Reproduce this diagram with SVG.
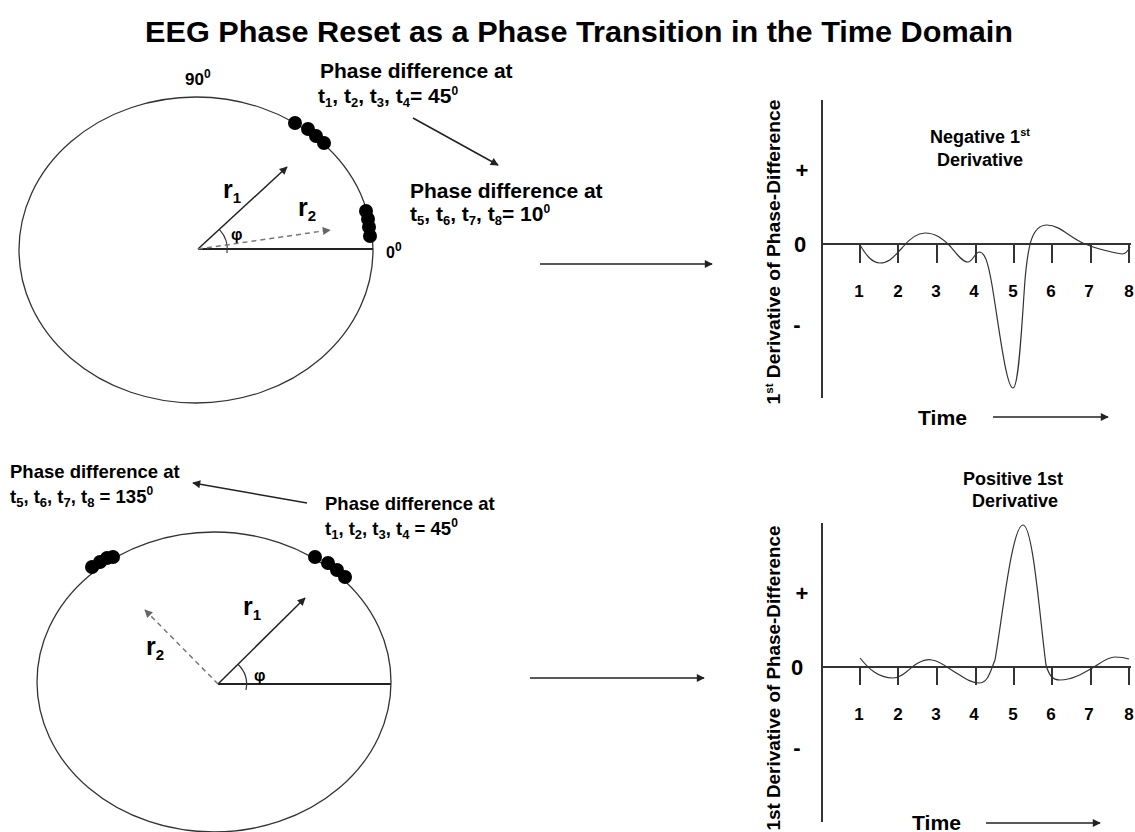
<svg xmlns="http://www.w3.org/2000/svg" width="1135" height="832" viewBox="0 0 1135 832">
<defs>
<style>
text{font-family:"Liberation Sans",Arial,sans-serif;font-weight:bold;fill:#000}
.t21{font-size:21px}
.t18{font-size:18.5px}
.sb{font-size:13px}
.sp{font-size:12px}
.ell{fill:none;stroke:#333;stroke-width:1.3}
.vec{stroke:#222;stroke-width:1.5;fill:none}
.dvec{stroke:#777;stroke-width:1.5;fill:none;stroke-dasharray:5 4}
.ax{stroke:#333;stroke-width:2;fill:none}
.tick{stroke:#333;stroke-width:2}
.crv{stroke:#333;stroke-width:1.2;fill:none}
.dot{fill:#000}
.num{font-size:17px;text-anchor:middle}
.cap{font-size:18px;text-anchor:middle}
.pm{font-size:22px;text-anchor:middle}
</style>
<marker id="ah" viewBox="0 0 10 10" refX="9" refY="5" markerWidth="9" markerHeight="8" markerUnits="userSpaceOnUse" orient="auto"><path d="M0,0L10,5L0,10z" fill="#222"/></marker>
<marker id="ahg" viewBox="0 0 10 10" refX="9" refY="5" markerWidth="9" markerHeight="8" markerUnits="userSpaceOnUse" orient="auto"><path d="M0,0L10,5L0,10z" fill="#666"/></marker>
</defs>
<rect width="1135" height="832" fill="#fff"/>

<g id="title"><text x="145" y="42" font-size="30" textLength="868" lengthAdjust="spacingAndGlyphs">EEG Phase Reset as a Phase Transition in the Time Domain</text></g>

<g id="top-circle">
<ellipse class="ell" cx="196" cy="250" rx="177" ry="153"/>
<line x1="198" y1="249" x2="373" y2="249" stroke="#222" stroke-width="2"/>
<path class="crv" d="M227,253 A29,29 0 0 0 219.5,229.6"/>
<text x="231" y="240" font-size="16">φ</text>
<text x="185" y="85" font-size="17">90<tspan class="sp" dy="-7">0</tspan></text>
<text x="386" y="258" font-size="16">0<tspan class="sp" dy="-7">0</tspan></text>
<text x="223" y="198" font-size="25">r<tspan font-size="15" dy="5">1</tspan></text>
<text x="298" y="216" font-size="25">r<tspan font-size="15" dy="5">2</tspan></text>
<circle class="dot" cx="295" cy="123" r="7"/>
<circle class="dot" cx="308" cy="129" r="7"/>
<circle class="dot" cx="316" cy="136" r="7"/>
<circle class="dot" cx="324" cy="143" r="7"/>
<circle class="dot" cx="366" cy="211" r="7"/>
<circle class="dot" cx="368" cy="219" r="7"/>
<circle class="dot" cx="369" cy="227" r="7"/>
<circle class="dot" cx="370" cy="236" r="7"/>
</g>

<g id="top-labels">
<text class="t21" x="320" y="78">Phase difference at</text>
<text class="t21" x="318" y="103">t<tspan class="sb" dy="4">1</tspan><tspan dy="-4">, t</tspan><tspan class="sb" dy="4">2</tspan><tspan dy="-4">, t</tspan><tspan class="sb" dy="4">3</tspan><tspan dy="-4">, t</tspan><tspan class="sb" dy="4">4</tspan><tspan dy="-4">= 45</tspan><tspan class="sp" dy="-8">0</tspan></text>
<text class="t21" x="410" y="198">Phase difference at</text>
<text class="t21" x="410" y="221">t<tspan class="sb" dy="4">5</tspan><tspan dy="-4">, t</tspan><tspan class="sb" dy="4">6</tspan><tspan dy="-4">, t</tspan><tspan class="sb" dy="4">7</tspan><tspan dy="-4">, t</tspan><tspan class="sb" dy="4">8</tspan><tspan dy="-4">= 10</tspan><tspan class="sp" dy="-8">0</tspan></text>
</g>

<g id="top-graph">
<line class="ax" x1="822" y1="100" x2="822" y2="398"/>
<line class="ax" x1="822" y1="244" x2="1131" y2="244"/>
<g class="tick">
<line x1="860" y1="244" x2="860" y2="263"/><line x1="898" y1="244" x2="898" y2="263"/><line x1="937" y1="244" x2="937" y2="263"/><line x1="976" y1="244" x2="976" y2="263"/><line x1="1014" y1="244" x2="1014" y2="263"/><line x1="1052" y1="244" x2="1052" y2="263"/><line x1="1091" y1="244" x2="1091" y2="263"/><line x1="1129" y1="244" x2="1129" y2="263"/>
</g>
<text class="num" x="859" y="297">1</text><text class="num" x="898" y="297">2</text><text class="num" x="936" y="297">3</text><text class="num" x="974" y="297">4</text><text class="num" x="1013" y="297">5</text><text class="num" x="1051" y="297">6</text><text class="num" x="1089" y="297">7</text><text class="num" x="1129" y="297">8</text>
<text class="pm" x="802" y="178">+</text>
<text x="800" y="252" font-size="22" text-anchor="middle">0</text>
<text class="pm" x="797" y="332">-</text>
<text transform="translate(780,252) rotate(-90)" font-size="18.5" text-anchor="middle" textLength="305" lengthAdjust="spacingAndGlyphs">1<tspan font-size="11" dy="-7">st</tspan><tspan dy="7"> Derivative of Phase-Difference</tspan></text>
<text class="cap" x="980" y="143">Negative 1<tspan font-size="11" dy="-7">st</tspan></text>
<text class="cap" x="980" y="166">Derivative</text>
<text x="918" y="425" font-size="20" textLength="49" lengthAdjust="spacingAndGlyphs">Time</text>
<path class="crv" d="M860,245 C866,255 872,263 880,263 C890,263 895,255 902,248 C910,238 917,233 925,233 C935,233 942,238 950,246 C956,253 962,262 968,262 C972,262 975,253 979,252 C985,252 988,262 992,285 C998,320 1006,388 1013,388 C1019,388 1022,320 1025,280 C1028,245 1032,225 1047,225 C1060,225 1070,238 1085,244 C1100,250 1110,252 1122,254 C1126,254 1128,251 1130,247"/>
</g>

<g id="bottom-circle">
<ellipse class="ell" cx="214" cy="682" rx="177" ry="150"/>
<line x1="218" y1="684" x2="391" y2="684" stroke="#222" stroke-width="2"/>
<path class="crv" d="M246,690 A28,28 0 0 0 237.9,664.3"/>
<text x="254" y="681" font-size="16">φ</text>
<text x="243" y="615" font-size="25">r<tspan font-size="15" dy="5">1</tspan></text>
<text x="146" y="655" font-size="25">r<tspan font-size="15" dy="5">2</tspan></text>
<circle class="dot" cx="92" cy="567" r="7"/>
<circle class="dot" cx="100" cy="562" r="7"/>
<circle class="dot" cx="107" cy="558" r="7"/>
<circle class="dot" cx="113" cy="557" r="7"/>
<circle class="dot" cx="315" cy="557" r="7"/>
<circle class="dot" cx="328" cy="563" r="7"/>
<circle class="dot" cx="337" cy="570" r="7"/>
<circle class="dot" cx="345" cy="577" r="7"/>
</g>

<g id="bottom-labels">
<text class="t18" x="10" y="478">Phase difference at</text>
<text class="t18" x="10" y="503">t<tspan class="sb" dy="4">5</tspan><tspan dy="-4">, t</tspan><tspan class="sb" dy="4">6</tspan><tspan dy="-4">, t</tspan><tspan class="sb" dy="4">7</tspan><tspan dy="-4">, t</tspan><tspan class="sb" dy="4">8</tspan><tspan dy="-4"> = 135</tspan><tspan class="sp" dy="-8">0</tspan></text>
<text class="t18" x="325" y="510">Phase difference at</text>
<text class="t18" x="325" y="535">t<tspan class="sb" dy="4">1</tspan><tspan dy="-4">, t</tspan><tspan class="sb" dy="4">2</tspan><tspan dy="-4">, t</tspan><tspan class="sb" dy="4">3</tspan><tspan dy="-4">, t</tspan><tspan class="sb" dy="4">4</tspan><tspan dy="-4"> = 45</tspan><tspan class="sp" dy="-8">0</tspan></text>
</g>

<g id="bottom-graph">
<line class="ax" x1="822" y1="523" x2="822" y2="822"/>
<line class="ax" x1="822" y1="667" x2="1131" y2="667"/>
<g class="tick">
<line x1="860" y1="667" x2="860" y2="685"/><line x1="898" y1="667" x2="898" y2="685"/><line x1="937" y1="667" x2="937" y2="685"/><line x1="976" y1="667" x2="976" y2="685"/><line x1="1014" y1="667" x2="1014" y2="685"/><line x1="1052" y1="667" x2="1052" y2="685"/><line x1="1091" y1="667" x2="1091" y2="685"/><line x1="1129" y1="667" x2="1129" y2="685"/>
</g>
<text class="num" x="859" y="720">1</text><text class="num" x="898" y="720">2</text><text class="num" x="936" y="720">3</text><text class="num" x="974" y="720">4</text><text class="num" x="1013" y="720">5</text><text class="num" x="1051" y="720">6</text><text class="num" x="1089" y="720">7</text><text class="num" x="1129" y="720">8</text>
<text class="pm" x="802" y="601">+</text>
<text x="797" y="675" font-size="22" text-anchor="middle">0</text>
<text class="pm" x="797" y="755">-</text>
<text transform="translate(780,678) rotate(-90)" font-size="18.5" text-anchor="middle" textLength="305" lengthAdjust="spacingAndGlyphs">1st Derivative of Phase-Difference</text>
<text class="cap" x="1013" y="485">Positive 1st</text>
<text class="cap" x="1015" y="507">Derivative</text>
<text x="912" y="830" font-size="20" textLength="49" lengthAdjust="spacingAndGlyphs">Time</text>
<path class="crv" d="M860,658 C868,668 878,678 893,678 C903,678 910,667 918,663 C924,660 928,659 932,660 C940,661 948,668 958,674 C966,679 972,683 979,683 C988,683 990,672 995,660 C1002,620 1012,525 1023,525 C1033,525 1040,620 1046,665 C1049,675 1052,680 1060,680 C1072,680 1082,674 1094,667 C1102,662 1108,657 1115,657 C1120,657 1126,658 1129,659"/>
</g>

<g id="connectors">
<line class="vec" x1="198" y1="249" x2="287" y2="167" marker-end="url(#ah)"/>
<line class="dvec" x1="198" y1="249" x2="330" y2="230" marker-end="url(#ahg)"/>
<line class="vec" x1="413" y1="118" x2="498" y2="165" marker-end="url(#ah)"/>
<line class="vec" x1="540" y1="264" x2="712" y2="264" marker-end="url(#ah)"/>
<line class="vec" x1="993" y1="417" x2="1108" y2="417" marker-end="url(#ah)"/>
<line class="vec" x1="218" y1="684" x2="305" y2="598" marker-end="url(#ah)"/>
<line class="dvec" x1="218" y1="684" x2="145" y2="610" marker-end="url(#ahg)"/>
<line class="vec" x1="307" y1="503" x2="193" y2="483" marker-end="url(#ah)"/>
<line class="vec" x1="530" y1="678" x2="704" y2="678" marker-end="url(#ah)"/>
<line class="vec" x1="986" y1="823" x2="1100" y2="823" marker-end="url(#ah)"/>
</g>
</svg>
